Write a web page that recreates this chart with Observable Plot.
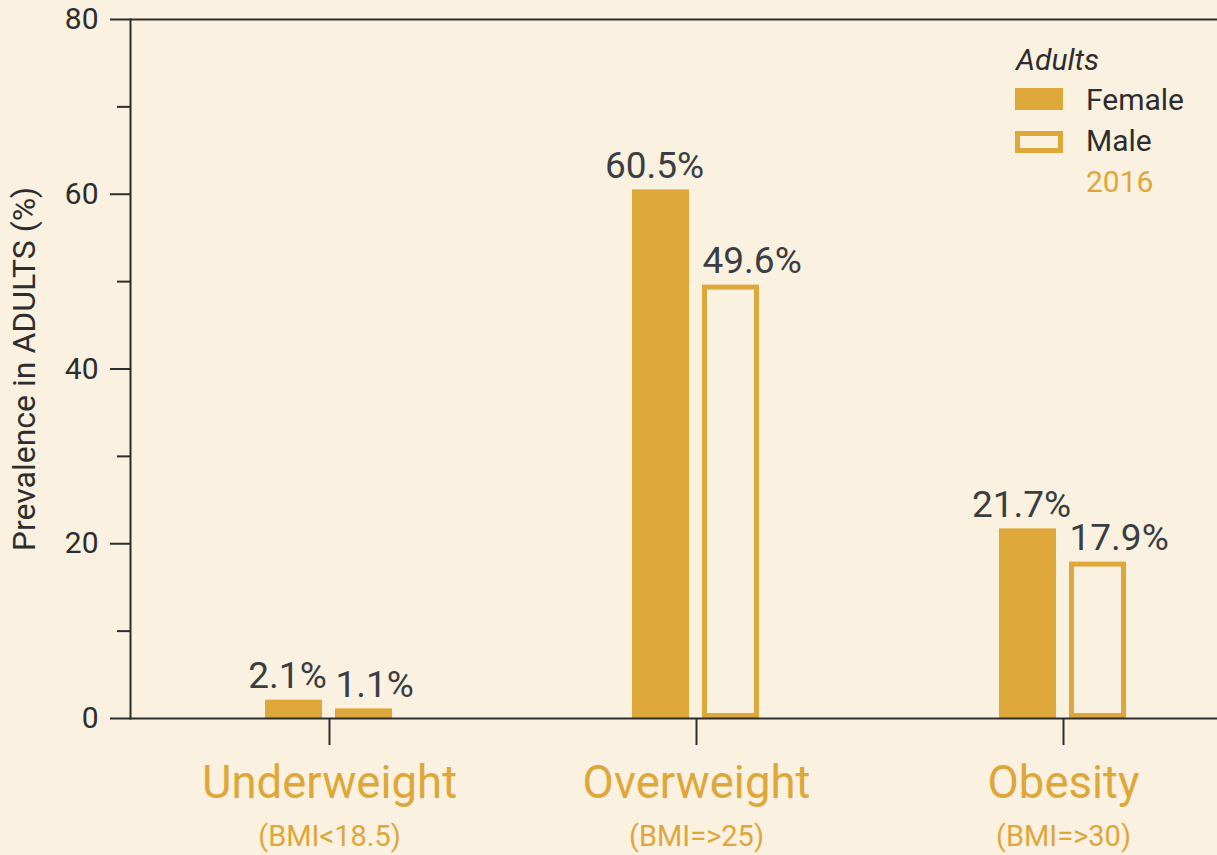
<!DOCTYPE html>
<html>
<head>
<meta charset="utf-8">
<script src="https://cdn.jsdelivr.net/npm/d3@7"></script>
<script src="https://cdn.jsdelivr.net/npm/@observablehq/plot@0.6"></script>
<style>
  html, body { margin: 0; padding: 0; background: #FAF1E1; }
  #wrap { position: relative; width: 1217px; height: 855px; font-family: Roboto, sans-serif; }
  #legend div { position: absolute; font-size: 30px; line-height: 30px; white-space: nowrap; }
  .sw { position: absolute; box-sizing: border-box; }
</style>
</head>
<body>
<div id="wrap">
  <div id="chart"></div>
  <div id="legend"></div>
</div>
<script>
const categories = ["Underweight", "Overweight", "Obesity"];
const bmiLabels = ["(BMI<18.5)", "(BMI=>25)", "(BMI=>30)"];
const female = [2.1, 60.5, 21.7];
const male = [1.1, 49.6, 17.9];
const majorTicks = [0, 20, 40, 60, 80];
const minorTicks = [10, 30, 50, 70];
const legendTitle = "Adults";
const seriesNames = ["Female", "Male"];
const yearLabel = "2016";
const yTitle = "Prevalence in ADULTS (%)";

const gold = "#DEA73A";
const cream = "#FAF1E1";
const dark = "#2d2d2d";
const numColor = "#3a3e42";

const femaleRows = categories.map((c, i) => ({category: c, value: female[i]}));
const maleRows = categories.map((c, i) => ({category: c, value: male[i]}));
const catRows = categories.map((c, i) => ({category: c, bmi: bmiLabels[i]}));

const chart = Plot.plot({
  width: 1217,
  height: 855,
  marginTop: 19,
  marginBottom: 137,
  marginLeft: 130,
  marginRight: 0,
  style: {background: "transparent", fontFamily: "Roboto, sans-serif", color: dark, overflow: "visible"},
  x: {domain: categories, range: [264, 1128], paddingInner: 0.652, paddingOuter: 0, label: null, axis: null},
  y: {domain: [0, 80], label: null, axis: null},
  marks: [
    Plot.barY(femaleRows, {x: "category", y: "value", fill: gold, insetRight: 71}),
    Plot.barY(maleRows, {x: "category", y: "value", fill: cream, stroke: gold, strokeWidth: 5,
      insetLeft: 72.5, insetRight: 3.5, insetTop: 2.5, insetBottom: 2.5}),
    Plot.ruleY([0, 80], {stroke: dark, strokeWidth: 2}),
    Plot.frame({anchor: "left", stroke: dark, strokeWidth: 2}),
    Plot.axisY({ticks: majorTicks, tickSize: 20, tickPadding: 12, fontSize: 30, stroke: dark, fill: dark, strokeWidth: 2, label: null}),
    Plot.axisY({ticks: minorTicks, tickSize: 13, stroke: dark, fill: "none", strokeWidth: 2, label: null}),
    Plot.axisX({tickSize: 27, stroke: dark, fill: "none", strokeWidth: 2, label: null}),
    Plot.text(catRows, {x: "category", text: "category", frameAnchor: "bottom", lineAnchor: "bottom", dy: 79, fontSize: 45.5, fill: gold}),
    Plot.text(catRows, {x: "category", text: "bmi", frameAnchor: "bottom", lineAnchor: "bottom", dy: 127, fontSize: 29, fill: gold}),
    Plot.text(femaleRows, {x: "category", y: "value", text: d => d.value.toFixed(1) + "%", dx: -42, dy: -12, lineAnchor: "bottom", fontSize: 37, fill: numColor}),
    Plot.text(maleRows, {x: "category", y: "value", text: d => d.value.toFixed(1) + "%", textAnchor: "start", dx: 6, dy: -12, lineAnchor: "bottom", fontSize: 37, fill: numColor}),
    Plot.text([yTitle], {frameAnchor: "left", textAnchor: "middle", rotate: -90, dx: -106, fontSize: 32, fill: dark})
  ]
});
document.getElementById("chart").appendChild(chart);

// Legend (HTML overlay)
const lg = document.getElementById("legend");
function addText(txt, left, baseline, style) {
  const d = document.createElement("div");
  d.textContent = txt;
  d.style.left = left + "px";
  d.style.top = (baseline - 25) + "px";
  Object.assign(d.style, style || {});
  lg.appendChild(d);
}
function addSwatch(left, top, filled) {
  const s = document.createElement("div");
  s.className = "sw";
  s.style.left = left + "px";
  s.style.top = top + "px";
  s.style.width = "48px";
  s.style.height = "22px";
  if (filled) s.style.background = gold;
  else { s.style.border = "5px solid " + gold; s.style.background = cream; }
  lg.appendChild(s);
}
addText(legendTitle, 1016, 70, {fontStyle: "italic", color: dark});
addSwatch(1015, 88, true);
addText(seriesNames[0], 1086, 110, {color: dark});
addSwatch(1015, 131, false);
addText(seriesNames[1], 1086, 151, {color: dark});
addText(yearLabel, 1086, 192, {color: gold});
</script>
</body>
</html>
